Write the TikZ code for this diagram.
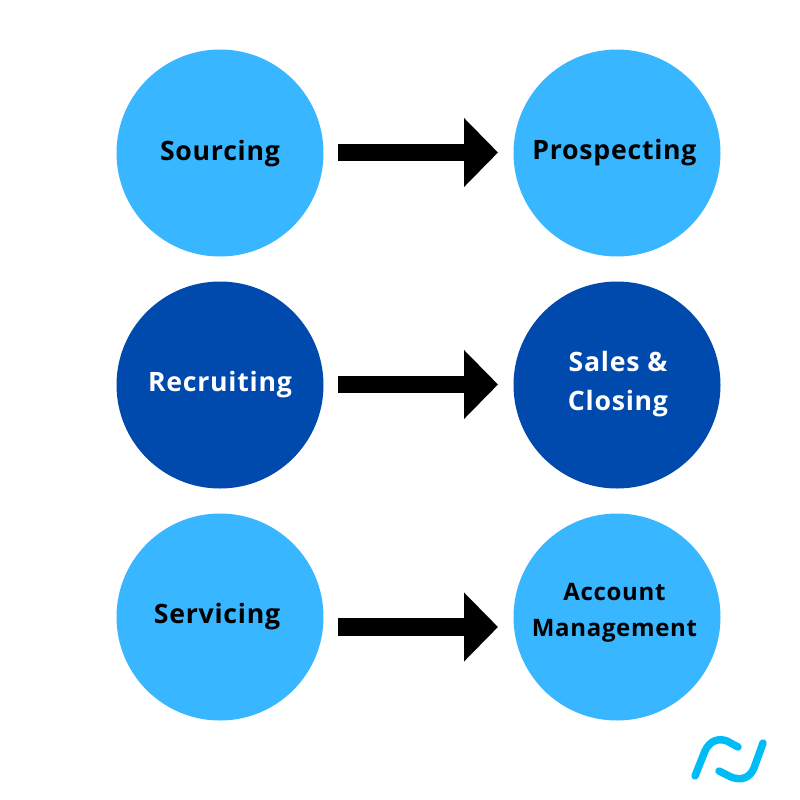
\documentclass[tikz,border=0pt]{standalone}
\usepackage{fontspec}
\setmainfont[LetterSpace=2.8]{Open Sans}
\usetikzlibrary{arrows.meta}
\definecolor{lightblue}{HTML}{38B6FF}
\definecolor{darkblue}{HTML}{004AAD}
\definecolor{logoblue}{HTML}{00BCF5}
\tikzset{
  x=0.75pt,y=-0.75pt,
  disc/.style={circle,draw=none,minimum size=155.25pt,inner sep=0pt},
  lightdisc/.style={disc,fill=lightblue},
  darkdisc/.style={disc,fill=darkblue},
  lbl/.style={font=\fontsize{20}{29}\selectfont\bfseries,align=center,inner sep=0pt,text=black},
  lblsmall/.style={lbl,font=\fontsize{18}{27}\selectfont\bfseries},
  lblw/.style={lbl,text=white},
  blockarrow/.style={line width=13pt,draw=black,-{Triangle[length=25.5pt,width=50.25pt]}},
  logo/.style={draw=logoblue,line width=5.6pt,line cap=round,line join=round}
}
\begin{document}
\begin{tikzpicture}
\useasboundingbox (0,0) rectangle (800,800);
\fill[white] (0,0) rectangle (800,800);
\node[lightdisc] (c1) at (220,153) {};
\node[lightdisc] (c2) at (617,153) {};
\node[darkdisc] (c3) at (220,385) {};
\node[darkdisc] (c4) at (617,385) {};
\node[lightdisc] (c5) at (220,617) {};
\node[lightdisc] (c6) at (617,617) {};
\node[lbl] (t1) at (220,153.5) {Sourcing};
\node[lbl] (t2) at (614.5,153) {Prospecting};
\node[lblw] (t3) at (220,384.5) {Recruiting};
\node[lblw] (t4) at (618,384) {Sales \&\\Closing};
\node[lbl] (t5) at (217,616.5) {Servicing};
\node[lblsmall] (t6) at (614.5,613) {Account\\Management};
\coordinate (a1s) at (338,152.5); \coordinate (a1e) at (498,152.5);
\coordinate (a2s) at (338,384.5); \coordinate (a2e) at (498,384.5);
\coordinate (a3s) at (338,627); \coordinate (a3e) at (498,627);
\draw[blockarrow] (a1s) -- (a1e);
\draw[blockarrow] (a2s) -- (a2e);
\draw[blockarrow] (a3s) -- (a3e);
\draw[logo] (695,776) -- (705,751) .. controls (710,740) and (719,738) .. (727,741) -- (738,747);
\draw[logo] (719,771) -- (731,777) .. controls (741,781) and (750,778) .. (754,768) -- (763,743);
\end{tikzpicture}
\end{document}
